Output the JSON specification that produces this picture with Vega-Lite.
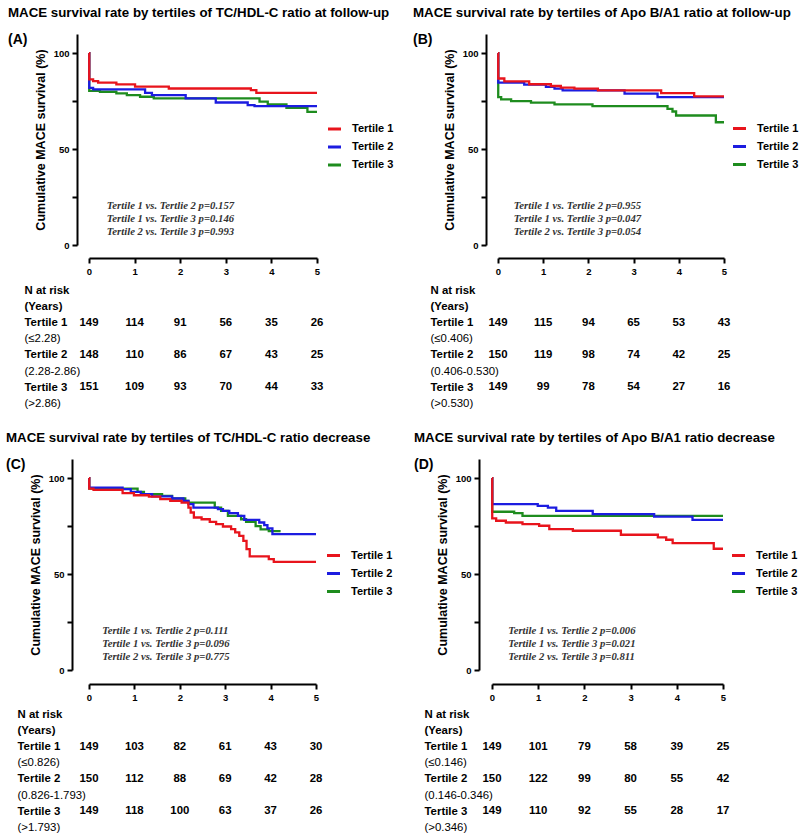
{
 "$schema": "https://vega.github.io/schema/vega-lite/v6.json",
 "padding": {"left": 6, "top": 5, "right": 0, "bottom": 0},
 "config": {
  "font": "Liberation Sans",
  "view": {"stroke": null},
  "axis": {"grid": false, "domainColor": "#000", "domainWidth": 2, "tickColor": "#000", "tickWidth": 2, "tickSize": 5, "labelColor": "#000", "labelFontWeight": "bold", "labelFontSize": 9.5, "titleColor": "#000"},
  "legend": {"orient": "none", "symbolType": "stroke", "symbolStrokeWidth": 3, "symbolSize": 170, "labelFontSize": 11, "labelFontWeight": "bold", "labelColor": "#000", "rowPadding": 3, "padding": 0, "labelOffset": 9},
  "title": {"anchor": "start", "frame": "group", "fontSize": 13.3, "fontWeight": "bold", "color": "#000", "subtitleFontSize": 14, "subtitleFontWeight": "bold", "subtitleColor": "#000", "subtitlePadding": 14, "offset": -13}
 },
 "datasets": {
  "surv": [
   {"panel":"A","g":"Tertile 3","t":0,"s":100},{"panel":"A","g":"Tertile 3","t":0.005,"s":80.4},{"panel":"A","g":"Tertile 3","t":0.24,"s":79.9},{"panel":"A","g":"Tertile 3","t":0.6,"s":79.0},{"panel":"A","g":"Tertile 3","t":0.83,"s":78.1},{"panel":"A","g":"Tertile 3","t":1.12,"s":77.3},{"panel":"A","g":"Tertile 3","t":1.42,"s":76.4},{"panel":"A","g":"Tertile 3","t":3.74,"s":74.7},{"panel":"A","g":"Tertile 3","t":3.92,"s":73.3},{"panel":"A","g":"Tertile 3","t":4.33,"s":71.5},{"panel":"A","g":"Tertile 3","t":4.79,"s":69.4},{"panel":"A","g":"Tertile 3","t":5,"s":69.4},
   {"panel":"A","g":"Tertile 2","t":0,"s":100},{"panel":"A","g":"Tertile 2","t":0.005,"s":81.9},{"panel":"A","g":"Tertile 2","t":0.09,"s":81.1},{"panel":"A","g":"Tertile 2","t":1.23,"s":79.3},{"panel":"A","g":"Tertile 2","t":1.38,"s":78.1},{"panel":"A","g":"Tertile 2","t":2.12,"s":76.4},{"panel":"A","g":"Tertile 2","t":2.78,"s":74.3},{"panel":"A","g":"Tertile 2","t":3.48,"s":72.9},{"panel":"A","g":"Tertile 2","t":3.63,"s":72.4},{"panel":"A","g":"Tertile 2","t":5,"s":72.4},
   {"panel":"A","g":"Tertile 1","t":0,"s":100},{"panel":"A","g":"Tertile 1","t":0.005,"s":86.3},{"panel":"A","g":"Tertile 1","t":0.09,"s":85.4},{"panel":"A","g":"Tertile 1","t":0.2,"s":84.7},{"panel":"A","g":"Tertile 1","t":0.6,"s":83.7},{"panel":"A","g":"Tertile 1","t":1.01,"s":82.6},{"panel":"A","g":"Tertile 1","t":1.75,"s":81.6},{"panel":"A","g":"Tertile 1","t":3.55,"s":80.7},{"panel":"A","g":"Tertile 1","t":3.67,"s":79.3},{"panel":"A","g":"Tertile 1","t":5,"s":79.3},
   {"panel":"B","g":"Tertile 3","t":0,"s":100},{"panel":"B","g":"Tertile 3","t":0.005,"s":77.1},{"panel":"B","g":"Tertile 3","t":0.07,"s":75.9},{"panel":"B","g":"Tertile 3","t":0.29,"s":75.0},{"panel":"B","g":"Tertile 3","t":0.73,"s":74.2},{"panel":"B","g":"Tertile 3","t":1.25,"s":73.3},{"panel":"B","g":"Tertile 3","t":2.09,"s":72.4},{"panel":"B","g":"Tertile 3","t":3.75,"s":71.0},{"panel":"B","g":"Tertile 3","t":3.86,"s":69.6},{"panel":"B","g":"Tertile 3","t":3.94,"s":67.5},{"panel":"B","g":"Tertile 3","t":4.82,"s":64.0},{"panel":"B","g":"Tertile 3","t":5,"s":64.0},
   {"panel":"B","g":"Tertile 2","t":0,"s":100},{"panel":"B","g":"Tertile 2","t":0.005,"s":84.7},{"panel":"B","g":"Tertile 2","t":0.58,"s":83.6},{"panel":"B","g":"Tertile 2","t":1.06,"s":82.4},{"panel":"B","g":"Tertile 2","t":1.25,"s":81.5},{"panel":"B","g":"Tertile 2","t":1.43,"s":80.6},{"panel":"B","g":"Tertile 2","t":2.8,"s":78.9},{"panel":"B","g":"Tertile 2","t":3.53,"s":77.1},{"panel":"B","g":"Tertile 2","t":5,"s":77.1},
   {"panel":"B","g":"Tertile 1","t":0,"s":100},{"panel":"B","g":"Tertile 1","t":0.005,"s":86.8},{"panel":"B","g":"Tertile 1","t":0.14,"s":85.3},{"panel":"B","g":"Tertile 1","t":0.69,"s":83.8},{"panel":"B","g":"Tertile 1","t":1.17,"s":82.9},{"panel":"B","g":"Tertile 1","t":1.39,"s":82.0},{"panel":"B","g":"Tertile 1","t":1.69,"s":81.5},{"panel":"B","g":"Tertile 1","t":2.21,"s":80.6},{"panel":"B","g":"Tertile 1","t":3.61,"s":79.2},{"panel":"B","g":"Tertile 1","t":4.34,"s":77.5},{"panel":"B","g":"Tertile 1","t":5,"s":77.5},
   {"panel":"C","g":"Tertile 3","t":0,"s":100},{"panel":"C","g":"Tertile 3","t":0.005,"s":94.6},{"panel":"C","g":"Tertile 3","t":1.07,"s":92.9},{"panel":"C","g":"Tertile 3","t":1.21,"s":91.7},{"panel":"C","g":"Tertile 3","t":1.61,"s":90.8},{"panel":"C","g":"Tertile 3","t":1.83,"s":89.4},{"panel":"C","g":"Tertile 3","t":2.12,"s":88.2},{"panel":"C","g":"Tertile 3","t":2.19,"s":87.3},{"panel":"C","g":"Tertile 3","t":2.77,"s":84.7},{"panel":"C","g":"Tertile 3","t":2.91,"s":83.0},{"panel":"C","g":"Tertile 3","t":3.06,"s":80.4},{"panel":"C","g":"Tertile 3","t":3.35,"s":78.6},{"panel":"C","g":"Tertile 3","t":3.46,"s":77.2},{"panel":"C","g":"Tertile 3","t":3.67,"s":75.0},{"panel":"C","g":"Tertile 3","t":3.78,"s":73.3},{"panel":"C","g":"Tertile 3","t":3.96,"s":72.4},{"panel":"C","g":"Tertile 3","t":4.22,"s":72.4},
   {"panel":"C","g":"Tertile 2","t":0,"s":100},{"panel":"C","g":"Tertile 2","t":0.005,"s":95.1},{"panel":"C","g":"Tertile 2","t":0.74,"s":94.3},{"panel":"C","g":"Tertile 2","t":0.92,"s":92.9},{"panel":"C","g":"Tertile 2","t":1.14,"s":91.7},{"panel":"C","g":"Tertile 2","t":1.39,"s":90.5},{"panel":"C","g":"Tertile 2","t":1.83,"s":89.4},{"panel":"C","g":"Tertile 2","t":2.08,"s":88.2},{"panel":"C","g":"Tertile 2","t":2.19,"s":86.5},{"panel":"C","g":"Tertile 2","t":2.3,"s":84.7},{"panel":"C","g":"Tertile 2","t":2.84,"s":83.9},{"panel":"C","g":"Tertile 2","t":2.95,"s":83.0},{"panel":"C","g":"Tertile 2","t":3.09,"s":81.8},{"panel":"C","g":"Tertile 2","t":3.28,"s":80.4},{"panel":"C","g":"Tertile 2","t":3.42,"s":78.3},{"panel":"C","g":"Tertile 2","t":3.75,"s":76.9},{"panel":"C","g":"Tertile 2","t":3.86,"s":75.5},{"panel":"C","g":"Tertile 2","t":3.93,"s":73.8},{"panel":"C","g":"Tertile 2","t":4.04,"s":70.8},{"panel":"C","g":"Tertile 2","t":5,"s":70.8},
   {"panel":"C","g":"Tertile 1","t":0,"s":100},{"panel":"C","g":"Tertile 1","t":0.005,"s":94.6},{"panel":"C","g":"Tertile 1","t":0.1,"s":93.9},{"panel":"C","g":"Tertile 1","t":0.74,"s":92.2},{"panel":"C","g":"Tertile 1","t":0.99,"s":91.1},{"panel":"C","g":"Tertile 1","t":1.32,"s":90.4},{"panel":"C","g":"Tertile 1","t":1.57,"s":89.1},{"panel":"C","g":"Tertile 1","t":1.79,"s":88.2},{"panel":"C","g":"Tertile 1","t":2.04,"s":87.3},{"panel":"C","g":"Tertile 1","t":2.19,"s":84.7},{"panel":"C","g":"Tertile 1","t":2.24,"s":82.1},{"panel":"C","g":"Tertile 1","t":2.31,"s":79.5},{"panel":"C","g":"Tertile 1","t":2.48,"s":78.6},{"panel":"C","g":"Tertile 1","t":2.66,"s":77.2},{"panel":"C","g":"Tertile 1","t":2.8,"s":76.0},{"panel":"C","g":"Tertile 1","t":2.95,"s":74.8},{"panel":"C","g":"Tertile 1","t":3.13,"s":73.4},{"panel":"C","g":"Tertile 1","t":3.22,"s":71.7},{"panel":"C","g":"Tertile 1","t":3.31,"s":69.9},{"panel":"C","g":"Tertile 1","t":3.4,"s":67.3},{"panel":"C","g":"Tertile 1","t":3.47,"s":63.0},{"panel":"C","g":"Tertile 1","t":3.54,"s":59.2},{"panel":"C","g":"Tertile 1","t":3.96,"s":57.8},{"panel":"C","g":"Tertile 1","t":4.07,"s":56.4},{"panel":"C","g":"Tertile 1","t":5,"s":56.4},
   {"panel":"D","g":"Tertile 3","t":0,"s":100},{"panel":"D","g":"Tertile 3","t":0.005,"s":82.5},{"panel":"D","g":"Tertile 3","t":0.48,"s":81.8},{"panel":"D","g":"Tertile 3","t":0.66,"s":80.4},{"panel":"D","g":"Tertile 3","t":5,"s":80.4},
   {"panel":"D","g":"Tertile 2","t":0,"s":100},{"panel":"D","g":"Tertile 2","t":0.005,"s":86.5},{"panel":"D","g":"Tertile 2","t":0.99,"s":85.6},{"panel":"D","g":"Tertile 2","t":1.21,"s":84.7},{"panel":"D","g":"Tertile 2","t":1.39,"s":83.0},{"panel":"D","g":"Tertile 2","t":2.18,"s":81.3},{"panel":"D","g":"Tertile 2","t":3.51,"s":80.0},{"panel":"D","g":"Tertile 2","t":4.34,"s":78.3},{"panel":"D","g":"Tertile 2","t":5,"s":78.3},
   {"panel":"D","g":"Tertile 1","t":0,"s":100},{"panel":"D","g":"Tertile 1","t":0.005,"s":79.0},{"panel":"D","g":"Tertile 1","t":0.09,"s":77.8},{"panel":"D","g":"Tertile 1","t":0.3,"s":76.9},{"panel":"D","g":"Tertile 1","t":0.66,"s":76.0},{"panel":"D","g":"Tertile 1","t":1.02,"s":75.2},{"panel":"D","g":"Tertile 1","t":1.24,"s":73.4},{"panel":"D","g":"Tertile 1","t":1.75,"s":72.6},{"panel":"D","g":"Tertile 1","t":2.79,"s":70.5},{"panel":"D","g":"Tertile 1","t":3.59,"s":69.1},{"panel":"D","g":"Tertile 1","t":3.77,"s":67.9},{"panel":"D","g":"Tertile 1","t":3.91,"s":66.1},{"panel":"D","g":"Tertile 1","t":4.8,"s":63.2},{"panel":"D","g":"Tertile 1","t":5,"s":63.2}
  ],
  "risk": [
   {"panel":"A","row":"Tertile 1","year":0,"n":149},{"panel":"A","row":"Tertile 1","year":1,"n":114},{"panel":"A","row":"Tertile 1","year":2,"n":91},{"panel":"A","row":"Tertile 1","year":3,"n":56},{"panel":"A","row":"Tertile 1","year":4,"n":35},{"panel":"A","row":"Tertile 1","year":5,"n":26},
   {"panel":"A","row":"Tertile 2","year":0,"n":148},{"panel":"A","row":"Tertile 2","year":1,"n":110},{"panel":"A","row":"Tertile 2","year":2,"n":86},{"panel":"A","row":"Tertile 2","year":3,"n":67},{"panel":"A","row":"Tertile 2","year":4,"n":43},{"panel":"A","row":"Tertile 2","year":5,"n":25},
   {"panel":"A","row":"Tertile 3","year":0,"n":151},{"panel":"A","row":"Tertile 3","year":1,"n":109},{"panel":"A","row":"Tertile 3","year":2,"n":93},{"panel":"A","row":"Tertile 3","year":3,"n":70},{"panel":"A","row":"Tertile 3","year":4,"n":44},{"panel":"A","row":"Tertile 3","year":5,"n":33},
   {"panel":"B","row":"Tertile 1","year":0,"n":149},{"panel":"B","row":"Tertile 1","year":1,"n":115},{"panel":"B","row":"Tertile 1","year":2,"n":94},{"panel":"B","row":"Tertile 1","year":3,"n":65},{"panel":"B","row":"Tertile 1","year":4,"n":53},{"panel":"B","row":"Tertile 1","year":5,"n":43},
   {"panel":"B","row":"Tertile 2","year":0,"n":150},{"panel":"B","row":"Tertile 2","year":1,"n":119},{"panel":"B","row":"Tertile 2","year":2,"n":98},{"panel":"B","row":"Tertile 2","year":3,"n":74},{"panel":"B","row":"Tertile 2","year":4,"n":42},{"panel":"B","row":"Tertile 2","year":5,"n":25},
   {"panel":"B","row":"Tertile 3","year":0,"n":149},{"panel":"B","row":"Tertile 3","year":1,"n":99},{"panel":"B","row":"Tertile 3","year":2,"n":78},{"panel":"B","row":"Tertile 3","year":3,"n":54},{"panel":"B","row":"Tertile 3","year":4,"n":27},{"panel":"B","row":"Tertile 3","year":5,"n":16},
   {"panel":"C","row":"Tertile 1","year":0,"n":149},{"panel":"C","row":"Tertile 1","year":1,"n":103},{"panel":"C","row":"Tertile 1","year":2,"n":82},{"panel":"C","row":"Tertile 1","year":3,"n":61},{"panel":"C","row":"Tertile 1","year":4,"n":43},{"panel":"C","row":"Tertile 1","year":5,"n":30},
   {"panel":"C","row":"Tertile 2","year":0,"n":150},{"panel":"C","row":"Tertile 2","year":1,"n":112},{"panel":"C","row":"Tertile 2","year":2,"n":88},{"panel":"C","row":"Tertile 2","year":3,"n":69},{"panel":"C","row":"Tertile 2","year":4,"n":42},{"panel":"C","row":"Tertile 2","year":5,"n":28},
   {"panel":"C","row":"Tertile 3","year":0,"n":149},{"panel":"C","row":"Tertile 3","year":1,"n":118},{"panel":"C","row":"Tertile 3","year":2,"n":100},{"panel":"C","row":"Tertile 3","year":3,"n":63},{"panel":"C","row":"Tertile 3","year":4,"n":37},{"panel":"C","row":"Tertile 3","year":5,"n":26},
   {"panel":"D","row":"Tertile 1","year":0,"n":149},{"panel":"D","row":"Tertile 1","year":1,"n":101},{"panel":"D","row":"Tertile 1","year":2,"n":79},{"panel":"D","row":"Tertile 1","year":3,"n":58},{"panel":"D","row":"Tertile 1","year":4,"n":39},{"panel":"D","row":"Tertile 1","year":5,"n":25},
   {"panel":"D","row":"Tertile 2","year":0,"n":150},{"panel":"D","row":"Tertile 2","year":1,"n":122},{"panel":"D","row":"Tertile 2","year":2,"n":99},{"panel":"D","row":"Tertile 2","year":3,"n":80},{"panel":"D","row":"Tertile 2","year":4,"n":55},{"panel":"D","row":"Tertile 2","year":5,"n":42},
   {"panel":"D","row":"Tertile 3","year":0,"n":149},{"panel":"D","row":"Tertile 3","year":1,"n":110},{"panel":"D","row":"Tertile 3","year":2,"n":92},{"panel":"D","row":"Tertile 3","year":3,"n":55},{"panel":"D","row":"Tertile 3","year":4,"n":28},{"panel":"D","row":"Tertile 3","year":5,"n":17}
  ],
  "pv": [
   {"panel":"A","lines":["Tertile 1 vs. Tertlie 2 p=0.157","Tertile 1 vs. Tertlie 3 p=0.146","Tertile 2 vs. Tertile 3 p=0.993"]},
   {"panel":"B","lines":["Tertile 1 vs. Tertlie 2 p=0.955","Tertile 1 vs. Tertlie 3 p=0.047","Tertile 2 vs. Tertile 3 p=0.054"]},
   {"panel":"C","lines":["Tertile 1 vs. Tertlie 2 p=0.111","Tertile 1 vs. Tertlie 3 p=0.096","Tertile 2 vs. Tertile 3 p=0.775"]},
   {"panel":"D","lines":["Tertile 1 vs. Tertlie 2 p=0.006","Tertile 1 vs. Tertlie 3 p=0.021","Tertile 2 vs. Tertile 3 p=0.811"]}
  ]
 },
 "spacing": 18,
 "resolve": {"scale": {"color": "independent"}, "legend": {"color": "independent"}},
 "vconcat": [
  {
   "hconcat": [
    {
     "vconcat": [
      {
       "width": 228, "height": 211,
       "title": {"text": "MACE survival rate by tertiles of TC/HDL-C ratio at follow-up", "subtitle": "(A)", "dx": -81},
       "layer": [
        {"data": {"name": "surv"}, "transform": [{"filter": "datum.panel === 'A'"}],
         "mark": {"type": "line", "interpolate": "step-after", "strokeWidth": 2.3},
         "encoding": {
          "x": {"field": "t", "type": "quantitative", "scale": {"domain": [0, 5], "nice": false}, "axis": {"values": [0,1,2,3,4,5], "title": null, "offset": 13, "labelPadding": 3, "labelFlush": false}},
          "y": {"field": "s", "type": "quantitative", "scale": {"domain": [0, 110], "nice": false}, "axis": {"values": [0,25,50,75,100], "labelExpr": "datum.value % 50 === 0 ? datum.label : ''", "title": "Cumulative MACE survival (%)", "titleFontSize": 12.5, "titleFontWeight": "bold", "titlePadding": 6, "offset": 12, "labelPadding": 3}},
          "color": {"field": "g", "type": "nominal", "scale": {"domain": ["Tertile 1","Tertile 2","Tertile 3"], "range": ["#e8141c","#1c1ce0","#1e8c1e"]}, "legend": {"title": null, "legendX": 237, "legendY": 86.5}}
         }},
        {"data": {"name": "pv"}, "transform": [{"filter": "datum.panel === 'A'"}],
         "mark": {"type": "text", "align": "left", "baseline": "middle", "font": "Liberation Serif", "fontStyle": "italic", "fontWeight": "bold", "fontSize": 10.7, "lineHeight": 13, "color": "#333"},
         "encoding": {"x": {"datum": 0.39}, "y": {"datum": 20.5}, "text": {"field": "lines", "type": "nominal"}}}
       ]
      },
      {
       "width": 228, "height": 129.6,
       "data": {"name": "risk"}, "transform": [{"filter": "datum.panel === 'A'"}],
       "mark": {"type": "text", "fontSize": 11.4, "fontWeight": "bold", "color": "#000"},
       "encoding": {
        "x": {"field": "year", "type": "quantitative", "scale": {"domain": [0, 5], "nice": false}, "axis": null},
        "y": {"field": "row", "type": "ordinal", "scale": {"type": "point", "padding": 0.5, "domain": ["N at risk","(Years)","Tertile 1","(≤2.28)","Tertile 2","(2.28-2.86)","Tertile 3","(>2.86)"]},
              "axis": {"title": null, "domain": false, "ticks": false, "tickSize": 0, "labelAlign": "left", "labelBaseline": "middle", "offset": 65, "labelPadding": 0, "labelFontSize": 11.4, "labelFontWeight": {"condition": {"test": "datum.label[0] !== '(' || datum.label === '(Years)'", "value": "bold"}, "value": "normal"}}},
        "text": {"field": "n", "type": "quantitative"}
       }
      }
     ],
     "spacing": 37, "bounds": "flush"
    },
    {
     "vconcat": [
      {
       "width": 226, "height": 211,
       "title": {"text": "MACE survival rate by tertiles of Apo B/A1 ratio at follow-up", "subtitle": "(B)", "dx": -85},
       "layer": [
        {"data": {"name": "surv"}, "transform": [{"filter": "datum.panel === 'B'"}],
         "mark": {"type": "line", "interpolate": "step-after", "strokeWidth": 2.3},
         "encoding": {
          "x": {"field": "t", "type": "quantitative", "scale": {"domain": [0, 5], "nice": false}, "axis": {"values": [0,1,2,3,4,5], "title": null, "offset": 13, "labelPadding": 3, "labelFlush": false}},
          "y": {"field": "s", "type": "quantitative", "scale": {"domain": [0, 110], "nice": false}, "axis": {"values": [0,25,50,75,100], "labelExpr": "datum.value % 50 === 0 ? datum.label : ''", "title": "Cumulative MACE survival (%)", "titleFontSize": 12.5, "titleFontWeight": "bold", "titlePadding": 6, "offset": 12, "labelPadding": 3}},
          "color": {"field": "g", "type": "nominal", "scale": {"domain": ["Tertile 1","Tertile 2","Tertile 3"], "range": ["#e8141c","#1c1ce0","#1e8c1e"]}, "legend": {"title": null, "legendX": 233, "legendY": 86}}
         }},
        {"data": {"name": "pv"}, "transform": [{"filter": "datum.panel === 'B'"}],
         "mark": {"type": "text", "align": "left", "baseline": "middle", "font": "Liberation Serif", "fontStyle": "italic", "fontWeight": "bold", "fontSize": 10.7, "lineHeight": 13, "color": "#333"},
         "encoding": {"x": {"datum": 0.35}, "y": {"datum": 20.5}, "text": {"field": "lines", "type": "nominal"}}}
       ]
      },
      {
       "width": 226, "height": 129.6,
       "data": {"name": "risk"}, "transform": [{"filter": "datum.panel === 'B'"}],
       "mark": {"type": "text", "fontSize": 11.4, "fontWeight": "bold", "color": "#000"},
       "encoding": {
        "x": {"field": "year", "type": "quantitative", "scale": {"domain": [0, 5], "nice": false}, "axis": null},
        "y": {"field": "row", "type": "ordinal", "scale": {"type": "point", "padding": 0.5, "domain": ["N at risk","(Years)","Tertile 1","(≤0.406)","Tertile 2","(0.406-0.530)","Tertile 3","(>0.530)"]},
              "axis": {"title": null, "domain": false, "ticks": false, "tickSize": 0, "labelAlign": "left", "labelBaseline": "middle", "offset": 68, "labelPadding": 0, "labelFontSize": 11.4, "labelFontWeight": {"condition": {"test": "datum.label[0] !== '(' || datum.label === '(Years)'", "value": "bold"}, "value": "normal"}}},
        "text": {"field": "n", "type": "quantitative"}
       }
      }
     ],
     "spacing": 37, "bounds": "flush"
    }
   ],
   "spacing": 19,
   "resolve": {"scale": {"color": "independent"}, "legend": {"color": "independent"}}
  },
  {
   "hconcat": [
    {
     "vconcat": [
      {
       "width": 227, "height": 211,
       "title": {"text": "MACE survival rate by tertiles of TC/HDL-C ratio decrease", "subtitle": "(C)", "dx": -83},
       "layer": [
        {"data": {"name": "surv"}, "transform": [{"filter": "datum.panel === 'C'"}],
         "mark": {"type": "line", "interpolate": "step-after", "strokeWidth": 2.3},
         "encoding": {
          "x": {"field": "t", "type": "quantitative", "scale": {"domain": [0, 5], "nice": false}, "axis": {"values": [0,1,2,3,4,5], "title": null, "offset": 14, "labelPadding": 3, "labelFlush": false}},
          "y": {"field": "s", "type": "quantitative", "scale": {"domain": [0, 110], "nice": false}, "axis": {"values": [0,25,50,75,100], "labelExpr": "datum.value % 50 === 0 ? datum.label : ''", "title": "Cumulative MACE survival (%)", "titleFontSize": 12.5, "titleFontWeight": "bold", "titlePadding": 6, "offset": 17, "labelPadding": 3}},
          "color": {"field": "g", "type": "nominal", "scale": {"domain": ["Tertile 1","Tertile 2","Tertile 3"], "range": ["#e8141c","#1c1ce0","#1e8c1e"]}, "legend": {"title": null, "legendX": 236, "legendY": 88}}
         }},
        {"data": {"name": "pv"}, "transform": [{"filter": "datum.panel === 'C'"}],
         "mark": {"type": "text", "align": "left", "baseline": "middle", "font": "Liberation Serif", "fontStyle": "italic", "fontWeight": "bold", "fontSize": 10.7, "lineHeight": 13, "color": "#333"},
         "encoding": {"x": {"datum": 0.29}, "y": {"datum": 20.5}, "text": {"field": "lines", "type": "nominal"}}}
       ]
      },
      {
       "width": 227, "height": 129.6,
       "data": {"name": "risk"}, "transform": [{"filter": "datum.panel === 'C'"}],
       "mark": {"type": "text", "fontSize": 11.4, "fontWeight": "bold", "color": "#000"},
       "encoding": {
        "x": {"field": "year", "type": "quantitative", "scale": {"domain": [0, 5], "nice": false}, "axis": null},
        "y": {"field": "row", "type": "ordinal", "scale": {"type": "point", "padding": 0.5, "domain": ["N at risk","(Years)","Tertile 1","(≤0.826)","Tertile 2","(0.826-1.793)","Tertile 3","(>1.793)"]},
              "axis": {"title": null, "domain": false, "ticks": false, "tickSize": 0, "labelAlign": "left", "labelBaseline": "middle", "offset": 72, "labelPadding": 0, "labelFontSize": 11.4, "labelFontWeight": {"condition": {"test": "datum.label[0] !== '(' || datum.label === '(Years)'", "value": "bold"}, "value": "normal"}}},
        "text": {"field": "n", "type": "quantitative"}
       }
      }
     ],
     "spacing": 36, "bounds": "flush"
    },
    {
     "vconcat": [
      {
       "width": 231, "height": 211,
       "title": {"text": "MACE survival rate by tertiles of Apo B/A1 ratio decrease", "subtitle": "(D)", "dx": -78},
       "layer": [
        {"data": {"name": "surv"}, "transform": [{"filter": "datum.panel === 'D'"}],
         "mark": {"type": "line", "interpolate": "step-after", "strokeWidth": 2.3},
         "encoding": {
          "x": {"field": "t", "type": "quantitative", "scale": {"domain": [0, 5], "nice": false}, "axis": {"values": [0,1,2,3,4,5], "title": null, "offset": 14, "labelPadding": 3, "labelFlush": false}},
          "y": {"field": "s", "type": "quantitative", "scale": {"domain": [0, 110], "nice": false}, "axis": {"values": [0,25,50,75,100], "labelExpr": "datum.value % 50 === 0 ? datum.label : ''", "title": "Cumulative MACE survival (%)", "titleFontSize": 12.5, "titleFontWeight": "bold", "titlePadding": 6, "offset": 13, "labelPadding": 3}},
          "color": {"field": "g", "type": "nominal", "scale": {"domain": ["Tertile 1","Tertile 2","Tertile 3"], "range": ["#e8141c","#1c1ce0","#1e8c1e"]}, "legend": {"title": null, "legendX": 238, "legendY": 88}}
         }},
        {"data": {"name": "pv"}, "transform": [{"filter": "datum.panel === 'D'"}],
         "mark": {"type": "text", "align": "left", "baseline": "middle", "font": "Liberation Serif", "fontStyle": "italic", "fontWeight": "bold", "fontSize": 10.7, "lineHeight": 13, "color": "#333"},
         "encoding": {"x": {"datum": 0.35}, "y": {"datum": 20.5}, "text": {"field": "lines", "type": "nominal"}}}
       ]
      },
      {
       "width": 231, "height": 129.6,
       "data": {"name": "risk"}, "transform": [{"filter": "datum.panel === 'D'"}],
       "mark": {"type": "text", "fontSize": 11.4, "fontWeight": "bold", "color": "#000"},
       "encoding": {
        "x": {"field": "year", "type": "quantitative", "scale": {"domain": [0, 5], "nice": false}, "axis": null},
        "y": {"field": "row", "type": "ordinal", "scale": {"type": "point", "padding": 0.5, "domain": ["N at risk","(Years)","Tertile 1","(≤0.146)","Tertile 2","(0.146-0.346)","Tertile 3","(>0.346)"]},
              "axis": {"title": null, "domain": false, "ticks": false, "tickSize": 0, "labelAlign": "left", "labelBaseline": "middle", "offset": 68, "labelPadding": 0, "labelFontSize": 11.4, "labelFontWeight": {"condition": {"test": "datum.label[0] !== '(' || datum.label === '(Years)'", "value": "bold"}, "value": "normal"}}},
        "text": {"field": "n", "type": "quantitative"}
       }
      }
     ],
     "spacing": 36, "bounds": "flush"
    }
   ],
   "spacing": 21,
   "resolve": {"scale": {"color": "independent"}, "legend": {"color": "independent"}}
  }
 ]
}
